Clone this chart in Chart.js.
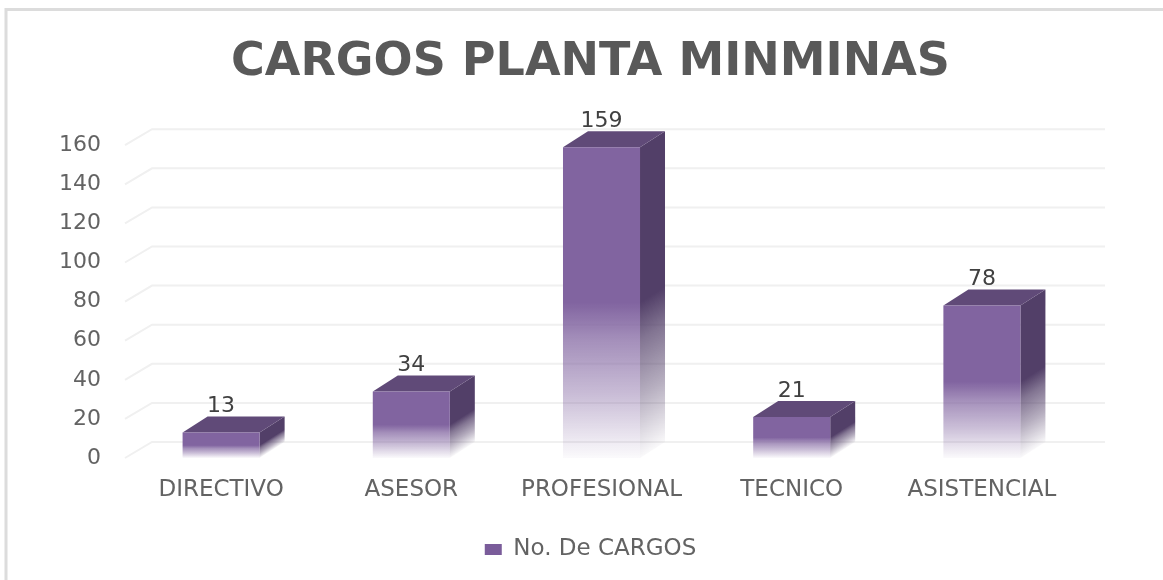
<!DOCTYPE html>
<html><head><meta charset="utf-8">
<style>html,body{margin:0;padding:0;background:#fff;overflow:hidden}#w{position:relative;width:1163px;height:580px}canvas{display:block}</style>
<script src="https://cdn.jsdelivr.net/npm/chart.js@4"></script>
</head><body><div id="w"><canvas id="c" width="1163" height="580"></canvas></div>
<script>
const chartTitle = 'CARGOS PLANTA MINMINAS';
const seriesName = 'No. De CARGOS';
const categories = ['DIRECTIVO','ASESOR','PROFESIONAL','TECNICO','ASISTENCIAL'];
const cargos = [13,34,159,21,78];
const yTicks = [0,20,40,60,80,100,120,140,160];

const DX = 25, DY = 16, GX = 27;
const FRONT = [129,100,160], SIDE = [82,63,104], TOP = '#604a78';
const rgba = (c,a)=>`rgba(${c[0]},${c[1]},${c[2]},${a})`;
function fade(ctx, c, top, base){
  const g = ctx.createLinearGradient(0, top, 0, base);
  g.addColorStop(0, rgba(c,1));
  g.addColorStop(0.5, rgba(c,1));
  g.addColorStop(0.62, rgba(c,0.72));
  g.addColorStop(0.8, rgba(c,0.42));
  g.addColorStop(1, rgba(c,0.03));
  return g;
}
const depth = {
  id:'depth',
  beforeDraw(chart){
    const c = chart.ctx;
    c.save();
    c.strokeStyle='#dcdcdc'; c.lineWidth=3;
    c.beginPath(); c.moveTo(6,580); c.lineTo(6,9.5); c.lineTo(1163,9.5); c.stroke();
    c.restore();
  },
  beforeDatasetsDraw(chart){
    const {ctx:c, scales:{x,y}} = chart;
    c.save();
    c.strokeStyle='#f0f0f0'; c.lineWidth=2;
    y.ticks.forEach(t=>{
      const p = y.getPixelForValue(t.value);
      c.beginPath();
      c.moveTo(x.left-1,p); c.lineTo(x.left-1+GX,p-DY); c.lineTo(x.right+GX+1,p-DY); c.stroke();
    });
    chart.getDatasetMeta(0).data.forEach(b=>{
      const r = b.x+b.width/2, top = b.y, base = b.base, k = DY/DX;
      c.save();
      c.transform(1,-k,0,1,0,r*k);
      c.fillStyle = fade(c,SIDE,top,base);
      c.fillRect(r,top,DX,base-top);
      c.restore();
      const l = b.x-b.width/2;
      c.fillStyle = TOP;
      c.beginPath(); c.moveTo(l,top); c.lineTo(l+DX,top-DY); c.lineTo(r+DX,top-DY); c.lineTo(r,top); c.closePath(); c.fill();
    });
    c.restore();
  },
  afterDatasetsDraw(chart){
    const c = chart.ctx;
    c.save();
    c.fillStyle='#404040'; c.font='22px "DejaVu Sans"'; c.textAlign='center'; c.textBaseline='middle';
    chart.getDatasetMeta(0).data.forEach((b,i)=>{
      c.fillText(String(cargos[i]), b.x, b.y-DY-10);
    });
    c.restore();
  }
};
new Chart(document.getElementById('c'),{
  type:'bar',
  plugins:[depth],
  data:{labels:categories,datasets:[{
    label:seriesName,
    data:cargos,
    borderWidth:0,
    barPercentage:1,
    categoryPercentage:0.405,
    backgroundColor(ctx){
      const ch = ctx.chart, y = ch.scales.y;
      if(ctx.type!=='data'||!y) return rgba(FRONT,1);
      return fade(ch.ctx,FRONT,y.getPixelForValue(ctx.parsed.y),y.getPixelForValue(0));
    }
  }]},
  options:{
    responsive:false,
    animation:false,
    devicePixelRatio:1,
    layout:{padding:{left:18,right:0,top:20,bottom:9}},
    plugins:{
      title:{display:true,text:chartTitle,color:'#595959',font:{family:'"DejaVu Sans"',size:46,weight:'bold'},padding:{top:15,bottom:55}},
      legend:{position:'bottom',labels:{color:'#636363',font:{family:'"DejaVu Sans"',size:23},boxWidth:17,boxHeight:11,padding:10,
        generateLabels(){return [{text:seriesName,fillStyle:'#7a5c9a',strokeStyle:'#7a5c9a',lineWidth:0,fontColor:'#636363'}];}}},
      tooltip:{enabled:false}
    },
    scales:{
      x:{afterFit(s){s.height=70;},grid:{display:false},border:{display:false},ticks:{color:'#636363',font:{family:'"DejaVu Sans"',size:23},padding:10,maxRotation:0,autoSkip:false}},
      y:{min:0,max:160,afterFit(s){s.width=108;},grid:{display:false},border:{display:false},
        afterBuildTicks(s){s.ticks=yTicks.map(v=>({value:v}));},
        ticks:{color:'#636363',font:{family:'"DejaVu Sans"',size:22},padding:17}},
      pad:{type:'linear',position:'right',afterFit(s){s.width=86;},grid:{display:false},border:{display:false},ticks:{display:false}}
    }
  }
});
</script></body></html>
